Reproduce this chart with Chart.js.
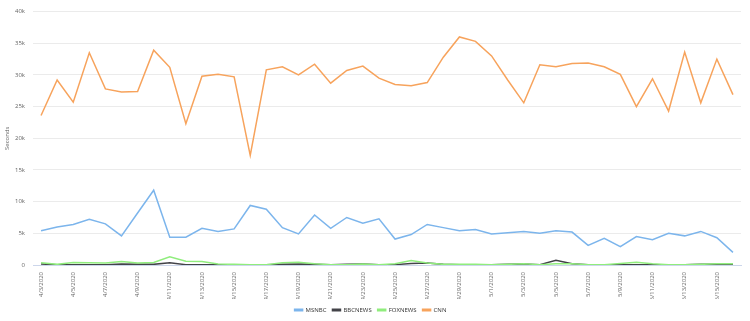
<!DOCTYPE html>
<html>
<head>
<meta charset="utf-8">
<script src="https://cdn.jsdelivr.net/npm/chart.js@4"></script>
<style>
  html, body { margin: 0; padding: 0; background: #ffffff; }
  #wrap { width: 750px; height: 321px; position: relative; }
</style>
</head>
<body>
<div id="wrap"><canvas id="c"></canvas></div>
<script>
const categories = ["4/3/2020","4/4/2020","4/5/2020","4/6/2020","4/7/2020","4/8/2020","4/9/2020","4/10/2020","4/11/2020","4/12/2020","4/13/2020","4/14/2020","4/15/2020","4/16/2020","4/17/2020","4/18/2020","4/19/2020","4/20/2020","4/21/2020","4/22/2020","4/23/2020","4/24/2020","4/25/2020","4/26/2020","4/27/2020","4/28/2020","4/29/2020","4/30/2020","5/1/2020","5/2/2020","5/3/2020","5/4/2020","5/5/2020","5/6/2020","5/7/2020","5/8/2020","5/9/2020","5/10/2020","5/11/2020","5/12/2020","5/13/2020","5/14/2020","5/15/2020","5/16/2020"];

const msnbc = [5400,6000,6400,7200,6500,4600,8200,11800,4400,4400,5800,5300,5700,9400,8800,5900,4900,7900,5800,7500,6600,7300,4100,4800,6400,5900,5400,5600,4900,5100,5300,5000,5400,5200,3100,4200,2900,4500,4000,5000,4600,5300,4300,2000];
const bbcnews = [150,50,50,50,50,150,100,100,350,50,50,50,50,50,50,100,150,100,50,100,150,50,50,250,300,100,50,50,50,100,150,50,750,200,50,50,50,50,50,50,50,100,100,100];
const foxnews = [350,100,400,350,300,550,300,400,1300,600,550,150,100,50,50,350,450,200,50,50,150,50,200,700,300,100,100,100,50,100,200,50,200,200,50,50,250,450,200,50,50,100,200,200];
const cnn = [23600,29200,25700,33500,27800,27300,27400,33900,31200,22300,29800,30100,29700,17300,30800,31300,30000,31700,28700,30700,31400,29500,28500,28300,28800,32800,36000,35300,33000,29200,25600,31600,31300,31800,31900,31300,30100,25000,29400,24300,33600,25600,32500,26900];

const yTicks = [0,5000,10000,15000,20000,25000,30000,35000,40000];
const yTickLabels = ["0","5k","10k","15k","20k","25k","30k","35k","40k"];
const seriesNames = ["MSNBC","BBCNEWS","FOXNEWS","CNN"];
const seriesColors = ["#7cb5ec","#434348","#90ed7d","#f7a35c"];

const FONT = "'Open Sans', sans-serif";

const seriesData = [msnbc, bbcnews, foxnews, cnn];
const orders = [3, 2, 1, 0];

const shiftLegend = {
  id: 'shiftLegend',
  afterLayout(chart) {
    const lg = chart.legend;
    if (lg) { lg.top += 2; lg.bottom += 2; }
  }
};

new Chart(document.getElementById('c'), {
  type: 'line',
  data: {
    labels: categories,
    datasets: seriesNames.map((n, i) => ({
      label: n,
      data: seriesData[i],
      borderColor: seriesColors[i],
      backgroundColor: seriesColors[i],
      borderWidth: 1.5,
      pointRadius: 0,
      pointHoverRadius: 0,
      tension: 0,
      fill: false,
      order: orders[i]
    }))
  },
  options: {
    responsive: true,
    maintainAspectRatio: false,
    animation: false,
    devicePixelRatio: 1,
    layout: { padding: { top: 6, right: 9, left: 0, bottom: 0 } },
    plugins: {
      legend: {
        position: 'bottom',
        labels: {
          boxWidth: 8,
          boxHeight: 1.5,
          padding: 6,
          color: '#333333',
          font: { family: FONT, size: 6 },
          sort: (a, b) => a.datasetIndex - b.datasetIndex
        }
      },
      tooltip: { enabled: false }
    },
    scales: {
      x: {
        offset: true,
        grid: { display: false, drawTicks: false },
        border: { display: true, color: '#ccd6eb', width: 1 },
        ticks: {
          autoSkip: false,
          minRotation: 90,
          maxRotation: 90,
          padding: 7,
          color: '#666666',
          font: { family: FONT, size: 6 },
          callback: function(v, i) { return i % 2 === 0 ? categories[i] : ''; }
        },
        afterFit(scale) { scale.height = 34; }
      },
      y: {
        min: 0,
        max: 40000,
        afterBuildTicks(scale) { scale.ticks = yTicks.map(v => ({ value: v })); },
        grid: { color: '#ebebeb', drawTicks: false },
        border: { display: false },
        ticks: {
          padding: 8,
          color: '#666666',
          font: { family: FONT, size: 6 },
          callback: function(v) { const k = yTicks.indexOf(v); return k >= 0 ? yTickLabels[k] : ''; }
        },
        title: {
          display: true,
          text: 'Seconds',
          color: '#666666',
          font: { family: FONT, size: 6 },
          padding: { top: 4, bottom: 0 }
        },
        afterFit(scale) { scale.width = 33; }
      }
    }
  },
  plugins: [shiftLegend]
});
</script>
</body>
</html>
